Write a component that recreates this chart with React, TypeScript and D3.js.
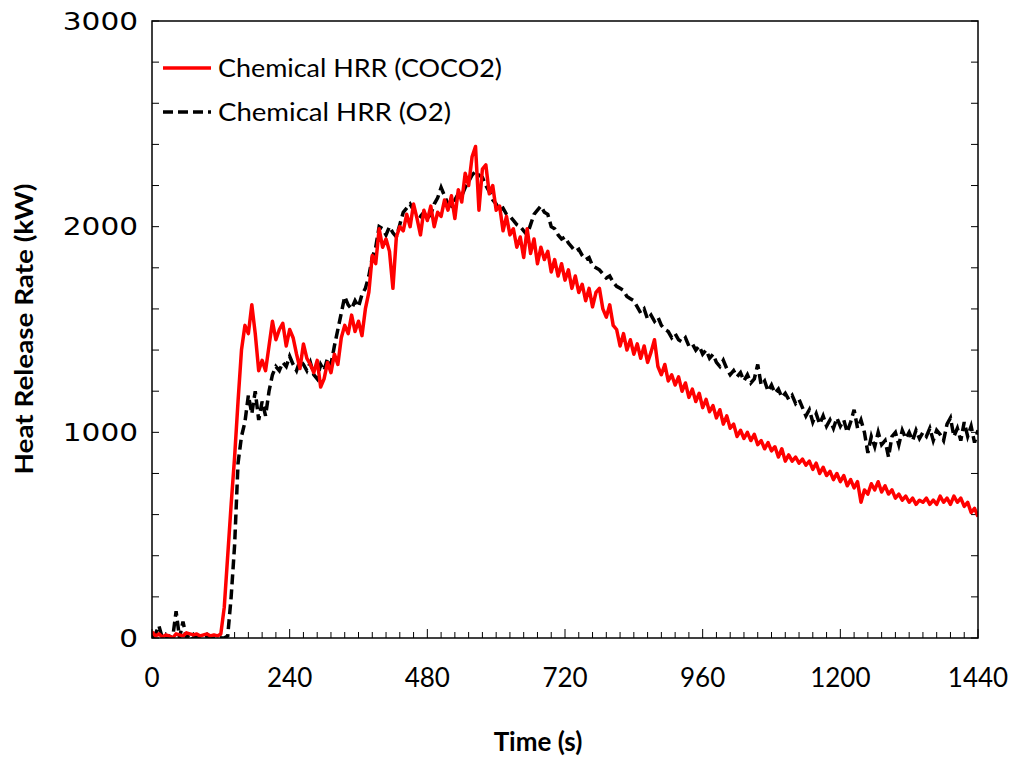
import React from "react";
import * as d3 from "d3";

const STEP = 6;
const coco2: number[] = [
30,10,20,5,15,10,0,20,15,10,25,20,15,20,10,15,20,10,15,10,
20,150,400,650,880,1150,1400,1520,1480,1620,1480,1300,1350,1300,1420,1540,1450,1500,1530,1420,
1500,1460,1380,1310,1430,1360,1330,1290,1350,1220,1260,1340,1290,1380,1330,1460,1520,1480,1570,1490,
1540,1470,1600,1680,1860,1820,1990,1900,1940,1880,1700,1950,2000,1980,2060,2000,2110,2040,1960,2080,
2030,2100,2000,2070,2050,2130,2080,2150,2040,2180,2120,2260,2200,2340,2390,2080,2280,2300,2160,2200,
2080,2100,1980,2050,1960,1990,1900,1950,1850,1990,1870,1940,1820,1900,1840,1880,1780,1840,1760,1820,
1740,1790,1700,1760,1680,1720,1640,1700,1610,1680,1700,1600,1560,1620,1520,1500,1420,1480,1400,1450,
1380,1430,1360,1420,1340,1390,1450,1320,1280,1330,1250,1280,1230,1270,1200,1240,1170,1210,1150,1190,
1120,1160,1100,1130,1070,1110,1040,1080,1020,1040,980,1010,970,1000,960,990,940,960,920,950,
910,930,880,920,860,890,860,880,850,870,840,860,820,850,800,830,790,810,770,800,
760,790,740,770,730,760,660,720,700,750,720,760,710,740,700,720,680,700,670,690,
660,680,650,670,660,680,650,670,650,690,660,680,650,690,660,680,640,660,610,630,
590
];
const o2: number[] = [
0,20,60,0,-10,10,0,130,0,80,0,20,0,10,0,0,5,0,0,0,
0,0,10,200,450,850,980,1050,1180,1090,1200,1060,1150,1080,1200,1280,1320,1300,1340,1320,
1370,1330,1300,1350,1330,1300,1340,1280,1260,1330,1300,1360,1330,1420,1500,1580,1660,1620,1600,1640,
1610,1670,1700,1760,1850,1900,2000,1990,1960,2000,1970,1950,2010,2070,2090,2110,2080,2060,2050,2070,
2040,2060,2110,2140,2190,2150,2110,2100,2130,2160,2150,2190,2220,2250,2270,2250,2240,2200,2170,2130,
2110,2080,2090,2060,2050,2030,2010,2000,1980,1960,2010,2060,2080,2100,2070,2060,2000,1990,1960,1940,
1950,1920,1900,1880,1890,1860,1840,1850,1810,1800,1790,1770,1750,1760,1730,1710,1700,1690,1660,1650,
1640,1610,1580,1600,1550,1570,1540,1560,1520,1500,1490,1460,1480,1450,1440,1460,1420,1430,1400,1420,
1380,1400,1360,1380,1340,1320,1350,1310,1280,1300,1270,1290,1250,1280,1240,1260,1330,1230,1250,1200,
1230,1190,1210,1170,1190,1160,1180,1140,1160,1120,1080,1110,1050,1090,1040,1080,1030,1060,1020,1070,
1030,1060,1000,1050,1110,1020,1060,1000,900,980,930,1000,940,960,880,980,1000,940,1010,970,
1000,960,1010,970,1000,980,1020,960,1010,990,960,1040,1070,980,1020,960,1050,980,1030,950,
1010
];

const xTickLabels = [0, 240, 480, 720, 960, 1200, 1440];
const yTickLabels = [0, 1000, 2000, 3000];
const seriesNames = ["Chemical HRR (COCO2)", "Chemical HRR (O2)"];

export default function App() {
  const L = 152, R = 978, T = 21, B = 638;
  const x = d3.scaleLinear().domain([0, 1440]).range([L, R]);
  const y = d3.scaleLinear().domain([0, 3000]).range([B, T]);
  const line = d3
    .line<number>()
    .x((_, i) => x(i * STEP))
    .y((d) => y(Math.max(0, d)));

  const xMinor = d3.range(0, 1441, 24);
  const yMinor = d3.range(0, 3001, 200);
  const sans = "Lato, 'Open Sans', sans-serif";

  return (
    <svg
      width={1016}
      height={759}
      style={{ position: "absolute", left: 0, top: 0, background: "#fff" }}
    >
      <rect x={0} y={0} width={1016} height={759} fill="#fff" />
      <defs>
        <clipPath id="plot">
          <rect x={L} y={T - 2} width={R - L} height={B - T + 2} />
        </clipPath>
      </defs>
      {xMinor.map((t) => {
        const major = t % 240 === 0;
        return (
          <line
            key={"xt" + t}
            x1={x(t)}
            x2={x(t)}
            y1={B}
            y2={B - (major ? 9 : 6)}
            stroke="#000"
            strokeWidth={1}
          />
        );
      })}
      {yMinor.map((v) => (
        <g key={"yt" + v}>
          <line x1={L} x2={L + 7} y1={y(v)} y2={y(v)} stroke="#000" strokeWidth={1} />
          <line x1={R} x2={R - 7} y1={y(v)} y2={y(v)} stroke="#000" strokeWidth={1} />
        </g>
      ))}
      <g clipPath="url(#plot)">
        <path
          d={line(o2) || ""}
          fill="none"
          stroke="#000"
          strokeWidth={3.5}
          strokeDasharray="10,5"
        />
        <path
          d={line(coco2) || ""}
          fill="none"
          stroke="#ff0000"
          strokeWidth={3.5}
          strokeLinejoin="round"
        />
      </g>
      <rect x={L} y={T} width={R - L} height={B - T} fill="none" stroke="#000" strokeWidth={1.5} />
      {yTickLabels.map((v) => (
        <text
          key={"yl" + v}
          x={138}
          y={y(v)}
          dy="0.36em"
          textAnchor="end"
          fontFamily="'DejaVu Sans', Verdana, sans-serif"
          fontSize={24}
          textLength={String(v).length * 18.8}
          lengthAdjust="spacingAndGlyphs"
          fill="#000"
        >
          {v}
        </text>
      ))}
      {xTickLabels.map((t) => (
        <text
          key={"xl" + t}
          x={x(t)}
          y={678}
          dy="0.36em"
          textAnchor="middle"
          fontFamily={sans}
          fontSize={26}
          fill="#000"
        >
          {t}
        </text>
      ))}
      <text
        x={538}
        y={742}
        dy="0.36em"
        textAnchor="middle"
        fontFamily={sans}
        fontWeight="bold"
        fontSize={26}
        fill="#000"
      >
        Time (s)
      </text>
      <text
        transform={`translate(24,${329}) rotate(-90)`}
        dy="0.36em"
        textAnchor="middle"
        fontFamily={sans}
        fontWeight="bold"
        fontSize={25}
        textLength={291}
        lengthAdjust="spacingAndGlyphs"
        fill="#000"
      >
        Heat Release Rate (kW)
      </text>
      <line x1={163} x2={211} y1={68} y2={68} stroke="#ff0000" strokeWidth={3.5} />
      <text
        x={218}
        y={68}
        dy="0.36em"
        fontFamily={sans}
        fontSize={25}
        textLength={284}
        lengthAdjust="spacingAndGlyphs"
        fill="#000"
      >
        {seriesNames[0]}
      </text>
      <line x1={163} x2={211} y1={112} y2={112} stroke="#000" strokeWidth={3.5} strokeDasharray="10,5" />
      <text
        x={218}
        y={112}
        dy="0.36em"
        fontFamily={sans}
        fontSize={25}
        textLength={233}
        lengthAdjust="spacingAndGlyphs"
        fill="#000"
      >
        {seriesNames[1]}
      </text>
    </svg>
  );
}
